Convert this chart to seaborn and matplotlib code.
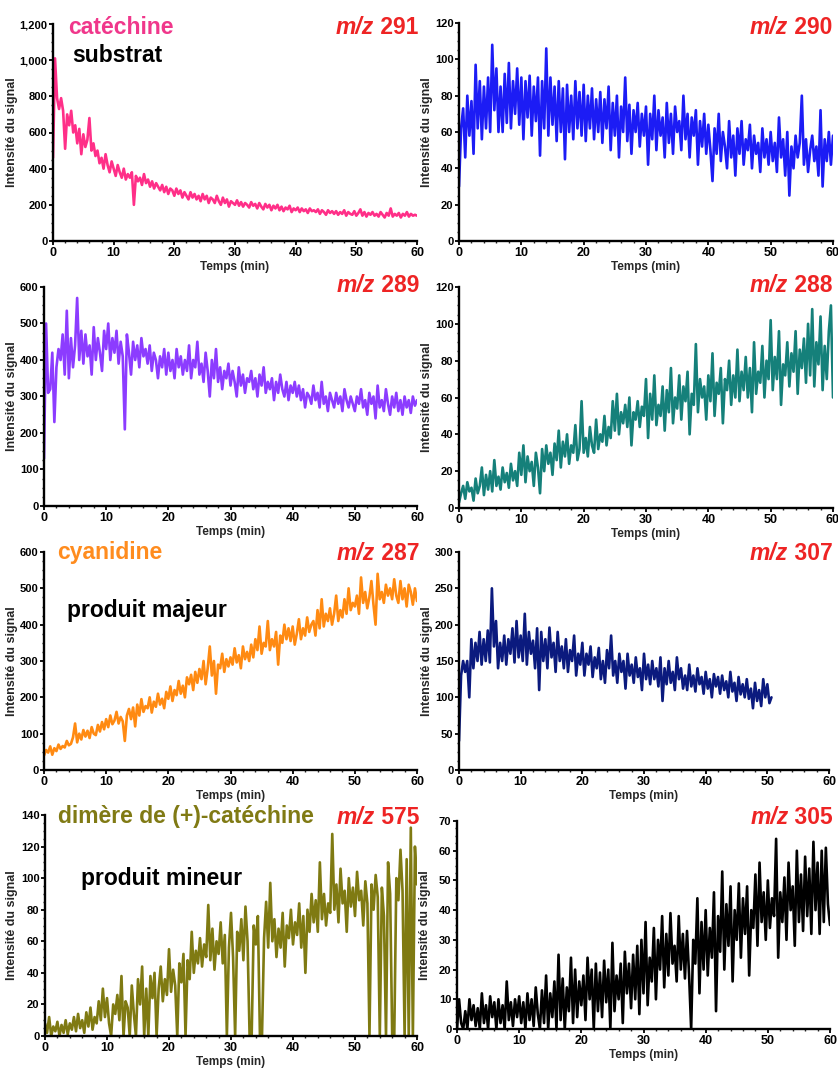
import numpy as np
import pandas as pd
import matplotlib
matplotlib.use("Agg")
import matplotlib.pyplot as plt
import seaborn as sns
from matplotlib.ticker import AutoMinorLocator

# ---- data (signal intensity, one value every ~1/3 min) ----
mz291 = [460, 1010, 790, 730, 790, 720, 510, 700, 640, 720,
         600, 640, 540, 620, 480, 590, 520, 560, 680, 500,
         540, 470, 500, 430, 460, 400, 480, 420, 380, 440,
         400, 360, 420, 380, 350, 400, 340, 370, 350, 380,
         200, 360, 330, 350, 310, 370, 320, 340, 300, 330,
         290, 320, 300, 280, 310, 270, 300, 260, 290, 280,
         250, 290, 260, 280, 240, 270, 250, 230, 270, 240,
         260, 230, 250, 220, 260, 230, 250, 210, 240, 230,
         210, 250, 220, 200, 240, 210, 230, 190, 220, 210,
         200, 225, 195, 215, 190, 210, 200, 185, 215, 195,
         205, 180, 210, 190, 175, 205, 185, 200, 170, 195,
         180, 200, 170, 190, 165, 185, 175, 195, 160, 180,
         170, 185, 160, 180, 165, 175, 155, 180, 165, 170,
         160, 175, 150, 170, 160, 145, 170, 155, 165, 150,
         165, 145, 160, 150, 170, 140, 160, 150, 145, 165,
         140, 155, 175, 140, 160, 135, 155, 145, 160, 140,
         150, 135, 160, 145, 130, 155, 140, 180, 135, 150,
         140, 155, 130, 150, 140, 160, 135, 150, 140, 145,
         140]

mz290 = [30, 62, 73, 46, 80, 58, 77, 48, 97, 62,
         88, 56, 85, 62, 90, 60, 108, 72, 95, 60,
         85, 60, 92, 65, 98, 62, 88, 70, 95, 64,
         90, 56, 88, 68, 91, 58, 85, 66, 90, 47,
         88, 62, 106, 58, 90, 64, 85, 55, 88, 60,
         84, 45, 86, 60, 80, 56, 88, 62, 82, 58,
         86, 55, 80, 62, 84, 56, 78, 60, 82, 54,
         78, 62, 85, 50, 76, 58, 80, 46, 74, 60,
         90, 55, 75, 48, 72, 60, 76, 52, 70, 58,
         74, 42, 70, 56, 80, 50, 72, 58, 68, 46,
         76, 54, 70, 48, 74, 60, 66, 50, 80, 56,
         70, 46, 68, 58, 72, 42, 66, 52, 70, 48,
         64, 50, 33, 62, 48, 70, 44, 60, 52, 40,
         66, 46, 58, 36, 62, 48, 66, 42, 56, 50,
         64, 40, 58, 48, 54, 38, 62, 46, 56, 42,
         60, 44, 54, 38, 68, 46, 56, 36, 60, 25,
         52, 40, 58, 46, 54, 80, 42, 56, 38, 50,
         58, 44, 52, 36, 72, 30, 56, 44, 60, 42,
         58]

mz289 = [130, 500, 310, 320, 420, 230, 380, 430, 400, 470,
         360, 535, 350, 460, 380, 440, 570, 400, 480, 390,
         470, 410, 440, 360, 490, 400, 460, 420, 370, 480,
         430, 500, 400, 460, 420, 480, 390, 450, 410, 210,
         470, 420, 360, 450, 400, 440, 380, 460, 410, 430,
         390, 440, 370, 420, 400, 350, 410, 380, 430, 360,
         420, 370, 400, 350, 430, 380, 410, 360, 400, 370,
         440, 350, 400, 380, 450, 360, 390, 340, 420, 370,
         300, 400, 350, 430, 340, 380, 320, 370, 350, 390,
         330, 370, 340, 300, 380, 330, 360, 310, 350, 340,
         370, 320, 350, 300, 360, 330, 380, 310, 340, 320,
         350, 290, 340, 310, 360, 320, 300, 340, 290, 330,
         310, 340, 300, 330, 290, 320, 270, 310, 300, 280,
         330, 290, 310, 270, 340, 280, 300, 260, 310, 290,
         270, 310, 280, 300, 260, 320, 290, 270, 300, 280,
         260, 300, 280, 320, 270, 290, 250, 310, 280, 300,
         240, 330, 270, 290, 260, 320, 280, 250, 300, 270,
         310, 260, 290, 250, 300, 270, 290, 255, 300, 275,
         290]

mz288 = [3, 8, 12, 5, 14, 9, 11, 4, 16, 8,
         12, 22, 7, 18, 10, 20, 9, 26, 12, 17,
         10, 22, 14, 19, 11, 24, 15, 20, 12, 30,
         18, 34, 14, 28, 20, 25, 12, 30, 22, 8,
         32, 20, 34, 24, 30, 18, 35, 26, 42, 22,
         36, 28, 40, 24, 34, 30, 45, 26, 32, 58,
         30, 38, 28, 44, 34, 30, 48, 32, 40, 36,
         50, 34, 44, 38, 58, 42, 62, 40, 52, 46,
         56, 44, 60, 34, 52, 48, 58, 44, 55, 50,
         70, 38, 62, 48, 72, 45, 56, 50, 66, 42,
         64, 52, 76, 46, 60, 54, 72, 48, 66, 58,
         74, 40, 62, 56, 89, 52, 70, 60, 66, 48,
         72, 58, 84, 50, 68, 62, 76, 46, 70, 64,
         80, 56, 72, 60, 86, 58, 74, 64, 82, 60,
         76, 52, 90, 62, 74, 68, 88, 60, 80, 70,
         102, 64, 82, 70, 96, 56, 78, 72, 90, 66,
         84, 74, 96, 62, 86, 76, 92, 68, 100, 72,
         108, 66, 90, 78, 104, 64, 88, 70, 96, 110,
         60]

mz287 = [40, 55, 48, 65, 42, 60, 52, 70, 58, 66,
         62, 80, 68, 72, 90, 128, 76, 100, 84, 110,
         92, 108, 88, 118, 100, 96, 124, 106, 132, 112,
         140, 118, 150, 126, 136, 160, 128, 146, 134, 80,
         150, 168, 140, 172, 120, 180, 150, 195, 160, 176,
         170, 200, 158, 188, 174, 210, 180, 196, 170, 215,
         196, 230, 190, 220, 206, 245, 210, 232, 200, 255,
         236, 262, 220, 270, 240, 278, 250, 300, 236, 280,
         340, 260, 300, 210, 290, 280, 320, 270, 305, 285,
         310, 290, 335, 296, 316, 280, 340, 305, 325, 300,
         345, 310, 360, 330, 395, 320, 350, 340, 410, 330,
         360, 340, 380, 290, 370, 350, 400, 360, 390, 355,
         395, 345, 375, 415, 360, 390, 370, 420, 380, 400,
         410, 370, 440, 390, 470, 395, 430, 410, 445, 400,
         430, 480, 410, 440, 420, 470, 430, 500, 440, 460,
         450, 480, 430, 530, 460, 490, 445, 475, 520, 455,
         400, 540, 470, 490, 460, 510, 480, 500, 470, 525,
         480, 460, 520, 470, 500, 450, 510, 490, 455, 500,
         465]

mz307 = [40, 130, 150, 135, 150, 100, 180, 140, 175, 150,
         190, 145, 180, 150, 192, 148, 250, 170, 205, 140,
         175, 150, 185, 145, 180, 160, 195, 148, 205, 155,
         185, 150, 215, 145, 190, 160, 178, 140, 195, 110,
         190, 150, 180, 140, 196, 155, 175, 135, 190, 150,
         170, 140, 180, 135, 165, 150, 185, 130, 160, 145,
         175, 130, 160, 145, 170, 128, 155, 140, 168, 125,
         150, 120, 165, 140, 185, 130, 150, 120, 160, 135,
         150, 112, 160, 130, 145, 120, 155, 128, 140, 110,
         160, 125, 145, 118, 150, 125, 140, 115, 155, 95,
         140, 118, 150, 120, 135, 110, 155, 125, 140, 112,
         130, 110, 145, 115, 130, 108, 140, 118, 128, 105,
         135, 112, 125, 100, 132, 115, 128, 105, 130, 110,
         122, 100, 135, 108, 120, 95, 128, 104, 118, 100,
         125, 98, 112, 85, 120, 95, 110, 88, 125, 100,
         118, 92, 100]

mz575 = [8, 2, 12, 0, 6, 3, 9, 0, 7, 2,
         10, 1, 8, 4, 12, 3, 14, 5, 10, 2,
         15, 6, 18, 4, 12, 8, 22, 10, 30, 12,
         24, 8, 0, 20, 14, 26, 10, 38, 0, 22,
         18, 0, 32, 14, 0, 36, 20, 44, 0, 30,
         0, 38, 24, 40, 0, 30, 44, 22, 36, 26,
         55, 28, 42, 32, 0, 46, 34, 52, 0, 48,
         36, 66, 40, 54, 46, 62, 44, 58, 50, 83,
         48, 68, 42, 60, 52, 72, 46, 64, 0, 56,
         78, 50, 0, 66, 54, 74, 48, 82, 60, 0,
         0, 70, 58, 76, 0, 0, 62, 85, 56, 97,
         60, 74, 50, 68, 56, 78, 44, 70, 62, 80,
         58, 72, 64, 84, 56, 76, 40, 80, 66, 90,
         72, 86, 66, 110, 74, 90, 70, 84, 78, 128,
         80, 96, 72, 106, 84, 92, 66, 100, 82, 94,
         76, 104, 86, 92, 70, 98, 84, 0, 96, 80,
         102, 88, 0, 94, 76, 0, 110, 90, 0, 0,
         100, 86, 118, 92, 0, 112, 0, 132, 0, 120,
         96]

mz305 = [0, 10, 2, 0, 6, 0, 10, 3, 8, 1,
         7, 0, 12, 2, 8, 0, 11, 4, 9, 0,
         10, 2, 8, 0, 16, 3, 9, 1, 10, 4,
         11, 2, 9, 0, 12, 3, 10, 1, 14, 5,
         0, 13, 2, 18, 0, 12, 4, 16, 0, 25,
         3, 17, 0, 14, 6, 24, 2, 20, 4, 16,
         8, 18, 3, 24, 10, 20, 0, 22, 6, 19,
         4, 23, 9, 20, 0, 29, 6, 18, 10, 22,
         2, 26, 12, 22, 7, 25, 10, 28, 5, 30,
         12, 36, 8, 24, 16, 34, 10, 30, 20, 38,
         14, 32, 18, 39, 22, 28, 16, 38, 20, 32,
         17, 33, 18, 0, 30, 22, 44, 12, 36, 20,
         40, 18, 34, 24, 46, 6, 38, 26, 53, 20,
         42, 28, 48, 16, 40, 30, 49, 24, 44, 32,
         48, 18, 40, 34, 52, 28, 56, 36, 46, 30,
         50, 34, 44, 38, 64, 24, 46, 36, 51, 30,
         56, 40, 48, 28, 60, 36, 52, 33, 58, 38,
         54, 32, 63, 40, 56, 32, 60, 36, 61, 42,
         35]

mz_labels = ["291", "290", "289", "288", "287", "307", "575", "305"]
run_end = [60, 60, 60, 60, 60, 50.67, 60, 60]   # last acquisition time (min)
y_max = [1200, 120, 600, 120, 600, 300, 140, 70]
y_step = [200, 20, 100, 20, 100, 50, 20, 10]

# ---- styling / layout ----
W, H = 838, 1068
colors = ["#ff2f88", "#1c1cf5", "#8c3cff", "#15807a",
          "#ff8a12", "#0b1a7e", "#7f7a12", "#000000"]
# axes boxes in pixels: left, top, right, bottom
boxes = [(53, 24, 417, 241), (459, 23, 833, 241),
         (44, 287, 417, 506), (459, 287, 833, 508),
         (44, 552, 417, 770), (459, 552, 829, 770),
         (45, 815, 417, 1036), (457, 821, 830, 1029)]
ylab_px = [18.5, 433, 18.5, 433, 18.5, 433, 18.5, 431]
mz_pos = [(418, 27), (832, 27), (419, 286), (832, 286),
          (419, 553), (833, 553), (419, 817), (833, 818)]
series = [mz291, mz290, mz289, mz288, mz287, mz307, mz575, mz305]

sns.set_style("ticks")
plt.rcParams["font.family"] = ["Liberation Sans", "DejaVu Sans"]
plt.rcParams["font.weight"] = "bold"

fig = plt.figure(figsize=(W / 100, H / 100), dpi=100)
fig.patch.set_facecolor("white")

RED = "#ee2424"
BIG = 16.5
for i, vals in enumerate(series):
    l, t, r, b = boxes[i]
    ax = fig.add_axes([l / W, 1 - b / H, (r - l) / W, (b - t) / H])
    df = pd.DataFrame({"t": np.linspace(0, run_end[i], len(vals)), "v": vals})
    sns.lineplot(data=df, x="t", y="v", ax=ax, color=colors[i],
                 linewidth=1.9, estimator=None)
    ax.set_xlim(0, 60)
    ax.set_ylim(0, y_max[i])
    sns.despine(ax=ax)
    for s in ("left", "bottom"):
        ax.spines[s].set_linewidth(1.7)
        ax.spines[s].set_color("black")
    xt = np.arange(0, 61, 10)
    yt = np.arange(0, y_max[i] + 1, y_step[i])
    ax.set_xticks(xt)
    ax.set_xticklabels([str(v) for v in xt], fontweight="bold", fontsize=9)
    ax.set_yticks(yt)
    ax.set_yticklabels([f"{int(v):,}" for v in yt], fontweight="bold",
                       fontsize=8)
    ax.xaxis.set_minor_locator(AutoMinorLocator(5))
    ax.yaxis.set_minor_locator(AutoMinorLocator(4))
    ax.tick_params(which="major", direction="out", length=3, width=1.3,
                   pad=1, colors="black")
    ax.tick_params(which="minor", direction="out", length=1.6, width=1.0)
    ax.set_xlabel("Temps (min)", fontweight="bold", fontsize=8.5, labelpad=2)
    ax.set_ylabel("Intensité du signal", fontweight="bold", fontsize=9)
    ax.yaxis.set_label_coords((ylab_px[i] - l) / (r - l), 0.5)

    # m/z annotation: italic "m/z" followed by the mass
    mx, my = mz_pos[i]
    num = fig.text(mx / W, 1 - my / H, " " + mz_labels[i], ha="right",
                   va="center", color=RED, fontsize=BIG, fontweight="bold")
    ax.annotate("m/z", xy=(0, 0), xycoords=num, ha="right", va="bottom",
                color=RED, fontsize=BIG, fontweight="bold",
                fontstyle="italic", annotation_clip=False)

# compound names and roles
def label(x, y, s, c):
    fig.text(x / W, 1 - y / H, s, ha="left", va="center", color=c,
             fontsize=BIG, fontweight="bold")

label(68, 27, "catéchine", "#f0378b")
label(72, 55, "substrat", "black")
label(57, 552, "cyanidine", "#ff8c1e")
label(67, 610, "produit majeur", "black")
label(58, 817, "dimère de (+)-catéchine", "#807a14")
label(81, 878, "produit mineur", "black")

fig.savefig("out.png", dpi=100, facecolor="white")
